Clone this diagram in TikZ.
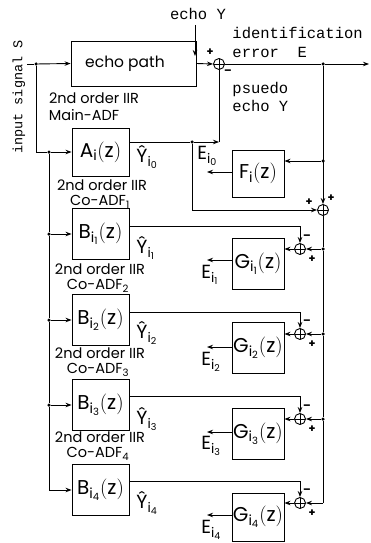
\documentclass[tikz,border=0pt]{standalone}
\usepackage{fontspec}
\setsansfont{Poppins}
\setmonofont{Liberation Mono}
\usetikzlibrary{arrows.meta}
\newcommand\sm[1]{\mathsf{#1}}
\newcommand\yh[1]{Ŷ$_{\sm{i}_{\sm{#1}}}$}
\begin{document}
\begin{tikzpicture}[x=1pt,y=-1pt, line width=0.9pt,
  box/.style={draw, minimum width=57pt, minimum height=51pt, inner sep=0pt, font=\sffamily\fontsize{20}{20}\selectfont},
  gbox/.style={draw, minimum width=52pt, minimum height=51pt, inner sep=0pt, font=\sffamily\fontsize{20}{20}\selectfont},
  sumc/.style={circle, draw, minimum size=11pt, inner sep=0pt,
    path picture={\draw (path picture bounding box.north)--(path picture bounding box.south) (path picture bounding box.west)--(path picture bounding box.east);}},
  dot/.style={circle, fill, inner sep=0pt, minimum size=3.5pt},
  arr/.style={-{Stealth[length=6pt,width=4.5pt]}},
  lbl/.style={font=\sffamily\fontsize{14.5}{14.5}\selectfont, inner sep=0pt},
  big/.style={font=\sffamily\fontsize{19}{19}\selectfont, inner sep=0pt, anchor=west},
  yl/.style={font=\sffamily\fontsize{19}{19}\selectfont, inner sep=0pt, anchor=base west},
  mono/.style={font=\ttfamily\fontsize{15.5}{15.5}\selectfont, inner sep=0pt, anchor=west},
  sg/.style={font=\sffamily\bfseries\fontsize{11}{11}\selectfont, inner sep=0pt}
]
\useasboundingbox (0,0) rectangle (370,543);

% top row
\node[draw, minimum width=125pt, minimum height=45pt, inner sep=0pt] (ep) at (133.5,63.5) {};
\node[font=\sffamily\fontsize{15.5}{15.5}\selectfont, inner sep=0pt] (tep) at (125,64) {echo path};
\node[sumc] (s1) at (219,64) {};
\node[dot] (din) at (36,64) {};
\coordinate (inS) at (27,64);
\node[dot] (dout) at (323,64) {};
\coordinate (outE) at (369,64);
\coordinate (eyT) at (195,25);
\coordinate (eyB) at (195,56);
\draw (inS) -- (din);
\draw[arr] (din) -- (ep.west);
\draw[arr] (ep.east) -- (s1.west);
\draw (s1.east) -- (dout);
\draw[arr] (dout) -- (outE);
\draw[arr] (eyT) -- (eyB);

\node[mono, anchor=center] (tEY) at (198,14) {echo Y};
\node[mono] (tId) at (232,33) {identification};
\node[mono] (tErr) at (232,52) {error\ \ E};
\node[mono] (tPs) at (232,89) {psuedo};
\node[mono] (tPY) at (232,106) {echo Y};
\node[mono, anchor=center, rotate=90, font=\ttfamily\fontsize{13.5}{13.5}\selectfont] (tIn) at (19,97) {input signal S};
\node[sg] (p1) at (210,52) {+};
\node[sg] (m1) at (228,72) {\textendash};

% adaptive filters
\node[box, minimum height=48pt] (A) at (100.5,152) {$\sm{A}_{\sm{i}}\sm{(z)}$};
\node[box] (B1) at (100.5,234) {$\sm{B}_{\sm{i}_{\sm{1}}}\sm{(z)}$};
\node[box] (B2) at (100.5,320) {$\sm{B}_{\sm{i}_{\sm{2}}}\sm{(z)}$};
\node[box] (B3) at (100.5,405) {$\sm{B}_{\sm{i}_{\sm{3}}}\sm{(z)}$};
\node[box] (B4) at (100.5,490) {$\sm{B}_{\sm{i}_{\sm{4}}}\sm{(z)}$};

\node[lbl] (l0a) at (94,98) {2nd order IIR};
\node[lbl] (l0b) at (84,115) {Main-ADF};
\node[lbl] (l1a) at (102,185) {2nd order IIR};
\node[lbl] (l1b) at (100,202) {Co-ADF$_{\sm{1}}$};
\node[lbl] (l2a) at (100,269) {2nd order IIR};
\node[lbl] (l2b) at (98,286) {Co-ADF$_{\sm{2}}$};
\node[lbl] (l3a) at (100,353) {2nd order IIR};
\node[lbl] (l3b) at (98,370) {Co-ADF$_{\sm{3}}$};
\node[lbl] (l4a) at (100,437) {2nd order IIR};
\node[lbl] (l4b) at (98,454) {Co-ADF$_{\sm{4}}$};

\node[yl] (y0) at (136,162) {\yh{0}};
\node[yl] (y1) at (136,253) {\yh{1}};
\node[yl] (y2) at (136,338) {\yh{2}};
\node[yl] (y3) at (136,424) {\yh{3}};
\node[yl] (y4) at (136,508) {\yh{4}};

% input distribution
\coordinate (lc) at (36,152);
\node[dot] (dA) at (49,152) {};
\node[dot] (d1) at (49,234) {};
\node[dot] (d2) at (49,320) {};
\node[dot] (d3) at (49,405) {};
\coordinate (c4) at (49,490);
\draw (din) -- (lc) -- (dA);
\draw (dA) -- (d1) -- (d2) -- (d3) -- (c4);
\draw[arr] (dA) -- (A.west);
\draw[arr] (d1) -- (B1.west);
\draw[arr] (d2) -- (B2.west);
\draw[arr] (d3) -- (B3.west);
\draw[arr] (c4) -- (B4.west);

% A output
\node[dot] (da) at (192,142) {};
\coordinate (ac) at (219,142);
\draw (A.east |- da) -- (da);
\draw[arr] (da) -- (ac);
\draw (ac) -- (s1.south);

% F and its sum
\node[gbox, minimum height=47pt] (F) at (258,173.5) {$\sm{F}_{\sm{i}}\sm{(z)}$};
\node[sumc] (s2) at (323,210) {};
\node[dot] (dF) at (323,161) {};
\draw[arr] (dout) -- (s2.north);
\draw[arr] (dF) -- (F.east |- dF);
\coordinate (e0) at (207,172);
\draw[arr] (F.west |- e0) -- (e0);
\node[big] (E0) at (197,156) {$\sm{E}_{\sm{i}_{\sm{0}}}$};
\draw[arr] (da) |- (s2.west);
\node[sg] (p2a) at (309,202) {+};
\node[sg] (p2b) at (331,198) {+};

% G blocks
\node[gbox] (G1) at (258,263.5) {$\sm{G}_{\sm{i}_{\sm{1}}}\sm{(z)}$};
\node[gbox] (G2) at (258,348) {$\sm{G}_{\sm{i}_{\sm{2}}}\sm{(z)}$};
\node[gbox] (G3) at (258,433.5) {$\sm{G}_{\sm{i}_{\sm{3}}}\sm{(z)}$};
\node[gbox, minimum height=48pt] (G4) at (258,517) {$\sm{G}_{\sm{i}_{\sm{4}}}\sm{(z)}$};

\node[sumc] (g1s) at (300,249) {};
\node[sumc] (g2s) at (300,334) {};
\node[sumc] (g3s) at (300,419) {};
\node[sumc] (g4s) at (300,503) {};

\node[dot] (g1d) at (323,249) {};
\node[dot] (g2d) at (323,334) {};
\node[dot] (g3d) at (323,419) {};
\coordinate (g4c) at (323,503);
\draw (s2.south) -- (g1d) -- (g2d) -- (g3d) -- (g4c);
\draw[arr] (g1d) -- (g1s.east);
\draw[arr] (g2d) -- (g2s.east);
\draw[arr] (g3d) -- (g3s.east);
\draw[arr] (g4c) -- (g4s.east);
\draw[arr] (g1s.west) -- (G1.east |- g1s);
\draw[arr] (g2s.west) -- (G2.east |- g2s);
\draw[arr] (g3s.west) -- (G3.east |- g3s);
\draw[arr] (g4s.west) -- (G4.east |- g4s);

\coordinate (b1o) at (300,226);
\coordinate (b2o) at (300,312);
\coordinate (b3o) at (300,396);
\coordinate (b4o) at (300,481);
\draw[arr] (B1.east |- b1o) -- (b1o) -- (g1s.north);
\draw[arr] (B2.east |- b2o) -- (b2o) -- (g2s.north);
\draw[arr] (B3.east |- b3o) -- (b3o) -- (g3s.north);
\draw[arr] (B4.east |- b4o) -- (b4o) -- (g4s.north);

\coordinate (e1) at (207,260);
\coordinate (e2) at (207,347);
\coordinate (e3) at (207,432);
\coordinate (e4) at (207,515);
\draw[arr] (G1.west |- e1) -- (e1);
\draw[arr] (G2.west |- e2) -- (e2);
\draw[arr] (G3.west |- e3) -- (e3);
\draw[arr] (G4.west |- e4) -- (e4);
\node[big] (E1) at (201,275) {$\sm{E}_{\sm{i}_{\sm{1}}}$};
\node[big] (E2) at (201,362) {$\sm{E}_{\sm{i}_{\sm{2}}}$};
\node[big] (E3) at (201,446) {$\sm{E}_{\sm{i}_{\sm{3}}}$};
\node[big] (E4) at (201,530) {$\sm{E}_{\sm{i}_{\sm{4}}}$};

\foreach \n/\y in {1/249,2/334,3/419,4/503}{
  \node[sg] (gm\n) at (307,\y-12) {\textendash};
  \node[sg] (gp\n) at (312,\y+10) {+};
}
\end{tikzpicture}
\end{document}
